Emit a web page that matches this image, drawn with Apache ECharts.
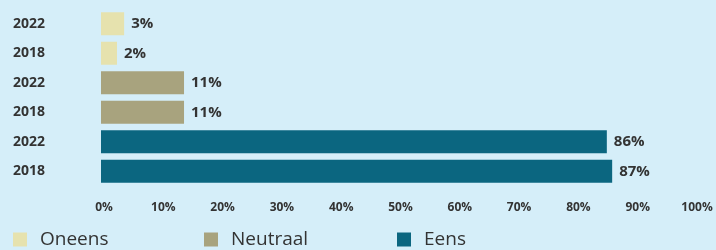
<!DOCTYPE html>
<html>
<head>
<meta charset="utf-8">
<script src="https://cdn.jsdelivr.net/npm/echarts@6/dist/echarts.min.js"></script>
<style>
  html, body { margin: 0; padding: 0; background: #d5eef9; }
  #container { width: 716px; height: 250px; }
</style>
</head>
<body>
<div id="container"></div>
<script>
// rijen van boven naar onder
var years = ['2022', '2018', '2022', '2018', '2022', '2018'];
var seriesNames = ['Oneens', 'Neutraal', 'Eens'];
// balklengte zoals in de figuur (%)
var oneens = [3.9, 2.7, null, null, null, null];
var neutraal = [null, null, 14.0, 14.0, null, null];
var eens = [null, null, null, null, 85.3, 86.2];
// getoonde labels
var labelText = ['3%', '2%', '11%', '11%', '86%', '87%'];
var ticks = [0, 10, 20, 30, 40, 50, 60, 70, 80, 90, 100];
var colors = ['#e6e2ae', '#a8a37e', '#0b6680'];

var dom = document.getElementById('container');
var myChart = echarts.init(dom);

function makeSeries(name, data, color) {
    return {
        name: name,
        type: 'bar',
        stack: 'all',
        data: data,
        barWidth: 23,
        itemStyle: { color: color },
        label: {
            show: true,
            position: 'right',
            distance: 7,
            color: '#333',
            fontFamily: 'Open Sans',
            fontWeight: 'bold',
            fontSize: 15,
            formatter: function (p) { return labelText[p.dataIndex]; }
        }
    };
}

var legendBase = {
    top: 230,
    padding: 0,
    itemWidth: 14,
    itemHeight: 14,
    itemGap: 13,
    icon: 'rect',
    textStyle: { color: '#333', fontSize: 19, fontFamily: 'Open Sans', padding: [0, 0, 0, 8] }
};

var option = {
    backgroundColor: '#d5eef9',
    animation: false,
    grid: { left: 101, right: 22, top: 9, height: 177 },
    legend: [
        Object.assign({}, legendBase, { left: 13, data: [seriesNames[0]] }),
        Object.assign({}, legendBase, { left: 204, data: [seriesNames[1]] }),
        Object.assign({}, legendBase, { left: 397, data: [seriesNames[2]] })
    ],
    xAxis: {
        type: 'value',
        min: ticks[0],
        max: ticks[ticks.length - 1],
        interval: 10,
        splitLine: { show: false },
        axisLine: { show: false },
        axisTick: { show: false },
        axisLabel: {
            margin: 16,
            color: '#333',
            fontFamily: 'Open Sans',
            fontWeight: 'bold',
            fontSize: 12,
            padding: [0, 0, 0, 6],
            formatter: '{value}%'
        }
    },
    yAxis: {
        type: 'category',
        inverse: true,
        data: years,
        axisLine: { show: false },
        axisTick: { show: false },
        axisLabel: {
            align: 'left',
            margin: 88,
            color: '#333',
            fontFamily: 'Open Sans',
            fontWeight: 'bold',
            fontSize: 14
        }
    },
    series: [
        makeSeries(seriesNames[0], oneens, colors[0]),
        makeSeries(seriesNames[1], neutraal, colors[1]),
        makeSeries(seriesNames[2], eens, colors[2])
    ]
};

myChart.setOption(option, true);
</script>
</body>
</html>
